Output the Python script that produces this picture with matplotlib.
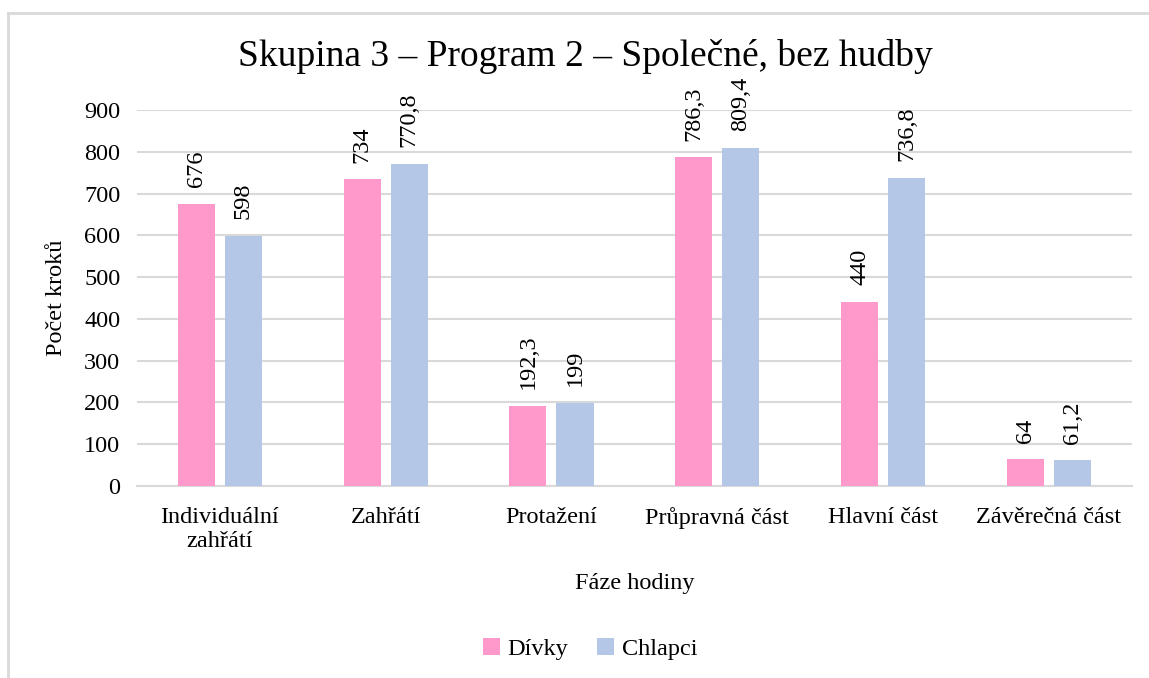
import matplotlib.pyplot as plt
import numpy as np
from matplotlib.lines import Line2D

plt.rcParams['font.family'] = ['Liberation Serif', 'DejaVu Serif']

phases = ["Individuální\nzahřátí", "Zahřátí", "Protažení",
          "Průpravná část", "Hlavní část", "Závěrečná část"]
divky = [676, 734, 192.3, 786.3, 440, 64]
chlapci = [598, 770.8, 199, 809.4, 736.8, 61.2]
divky_lbl = ["676", "734", "192,3", "786,3", "440", "64"]
chlapci_lbl = ["598", "770,8", "199", "809,4", "736,8", "61,2"]
yticks = [0, 100, 200, 300, 400, 500, 600, 700, 800, 900]

fig = plt.figure(figsize=(11.49, 6.78), dpi=100)
ax = fig.add_axes([0.1192, 0.2832, 0.8658, 0.5546])

# light grey frame (top and left edges visible)
ytop = 1 - 13/678
xl = 8/1149
fig.add_artist(Line2D([xl, 1.01], [ytop, ytop], transform=fig.transFigure, color='#D9D9D9', lw=2))
fig.add_artist(Line2D([xl, xl], [-0.01, ytop], transform=fig.transFigure, color='#D9D9D9', lw=2))

x = np.arange(len(phases))
w = 0.224
off = 0.142
b1 = ax.bar(x - off, divky, w, color='#FF99CC', label='Dívky', zorder=3)
b2 = ax.bar(x + off, chlapci, w, color='#B4C7E7', label='Chlapci', zorder=3)

for bars, lbls in ((b1, divky_lbl), (b2, chlapci_lbl)):
    for r, t in zip(bars, lbls):
        ax.annotate(t, (r.get_x() + r.get_width() / 2, r.get_height()),
                    xytext=(0, 12), textcoords='offset points', rotation=90,
                    ha='center', va='bottom', fontsize=17.5)

ax.set_xlim(-0.5, len(phases) - 0.5)
ax.set_ylim(0, 900)
ax.set_yticks(yticks)
ax.set_xticks(x)
ax.set_xticklabels(phases, fontsize=17.5)
ax.tick_params(axis='y', labelsize=17.5, length=0, pad=12)
ax.tick_params(axis='x', length=0, pad=15)
ax.grid(axis='y', color='#D9D9D9', linewidth=1.5, zorder=0)
for s in ('top', 'right', 'left'):
    ax.spines[s].set_visible(False)
ax.spines['bottom'].set_color('#D9D9D9')
ax.spines['bottom'].set_linewidth(1.5)

ax.set_ylabel('Počet kroků', fontsize=17.5, labelpad=12)
ax.set_xlabel('Fáze hodiny', fontsize=17.5, labelpad=15)
fig.text(585/1149, 1 - 57/678, 'Skupina 3 – Program 2 – Společné, bez hudby',
         ha='center', va='center', fontsize=27)

fig.legend(loc='center', bbox_to_anchor=(590/1149, 1 - 649/678), ncol=2, frameon=False,
           fontsize=17.5, handlelength=0.7, handleheight=0.7, handletextpad=0.3, columnspacing=1.2)

fig.savefig('out.png', dpi=100)
